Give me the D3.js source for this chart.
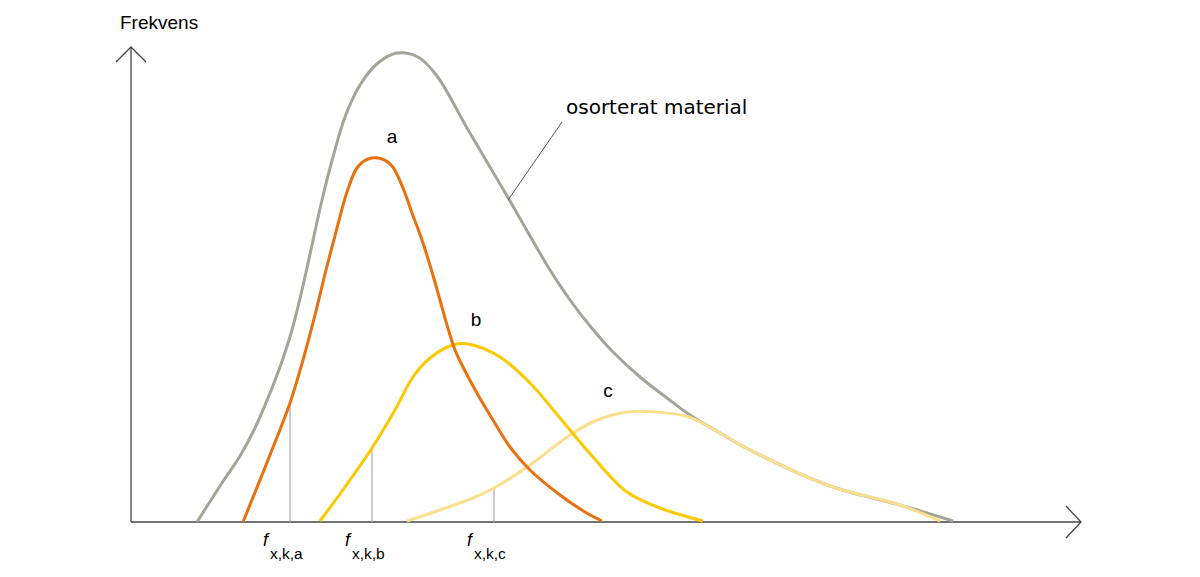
<!DOCTYPE html>
<html><head><meta charset="utf-8">
<script src="https://cdn.jsdelivr.net/npm/d3@7"></script>
<style>body{margin:0;background:#fff}svg{display:block}</style>
</head><body><svg id="c" width="1200" height="577"></svg>
<script>
// data: x and y in chart units (x from y-axis, y from x-axis)
const grayX = [66,91,109,124,137,149,161,171,181,191,202,214,229,247,266,287,306,336,359,379,399,419,439,459,482,509,536,559,589,619,699,769,822];
const grayY = [0,39,66,94,124,155,192,232,277,322,365,405,437,459,469,465,446,394,355,321,286,252,222,196,170,145,124,107,89,72,36,17,1];
const aX = [112,137,159,172,184,195,206,216,226,237,251,261,272,281,291,301,309,316,324,332,347,362,379,399,429,454,471];
const aY = [0,62,119,162,207,252,294,330,354,363,363,356,334,309,282,250,222,197,172,155,127,102,75,52,27,10,1];
const bX = [189,214,241,264,282,299,322,337,369,399,429,462,496,529,572];
const bY = [1,35,74,112,145,164,177,178,165,139,104,65,30,14,1];
const cX = [276,309,342,363,399,439,464,496,536,558,589,619,699,769,809];
const cY = [1,12,24,34,57,87,101,110,109,105,89,72,36,17,1];
const dropX = [159,241,363];
const dropY = [119,74,34];
const curveLabels = ["a","b","c"];
const labelX = [261,345,477];
const labelY = [379,196,125];
const fSubs = ["x,k,a","x,k,b","x,k,c"];

const svg = d3.select("#c");
const x = d3.scaleLinear().domain([0,950]).range([131,1081]);
const y = d3.scaleLinear().domain([0,470]).range([522,52]);

// axes
const ax = svg.append("g").attr("stroke","#444").attr("fill","none").attr("stroke-width",1.3);
ax.append("line").attr("x1",x(0)).attr("x2",x(950)).attr("y1",y(0)).attr("y2",y(0));
ax.append("line").attr("x1",x(0)).attr("x2",x(0)).attr("y1",y(0)).attr("y2",y(475));
ax.append("path").attr("d",`M${x(935)},${y(16)}L${x(950)},${y(0)}L${x(935)},${y(-16)}`);
ax.append("path").attr("d",`M${x(-15)},${y(460)}L${x(0)},${y(475)}L${x(15)},${y(460)}`);

// drop lines
dropX.forEach((d,i)=>{
  svg.append("line").attr("x1",x(d)).attr("x2",x(d)).attr("y1",y(0)).attr("y2",y(dropY[i]))
    .attr("stroke","#aaa").attr("stroke-width",1.2);
});

const line = d3.line().curve(d3.curveCatmullRom.alpha(0.5));
function draw(xs,ys,col,w){
  svg.append("path").attr("d",line(xs.map((d,i)=>[x(d),y(ys[i])])))
    .attr("fill","none").attr("stroke",col).attr("stroke-width",w).attr("stroke-linecap","butt");
}
draw(grayX,grayY,"#a4a49a",3);
draw(cX,cY,"#fbdf8e",3);
draw(bX,bY,"#fcc800",3);
draw(aX,aY,"#e8710f",3);

// leader line
svg.append("line").attr("x1",562).attr("y1",122).attr("x2",508).attr("y2",200).attr("stroke","#555").attr("stroke-width",1);

svg.append("text").attr("x",120).attr("y",29).attr("font-family","Liberation Sans, Arial").attr("font-size",19).text("Frekvens");
svg.append("text").attr("x",566).attr("y",114).attr("font-family","DejaVu Sans, Verdana").attr("font-size",20).text("osorterat material");
curveLabels.forEach((t,i)=>{
  svg.append("text").attr("x",x(labelX[i])).attr("y",y(labelY[i])).attr("text-anchor","middle")
   .attr("font-family","Liberation Sans, Arial").attr("font-size",19).text(t);
});
dropX.forEach((d,i)=>{
  const g = svg.append("text").attr("font-family","Liberation Sans, Arial").attr("font-size",18);
  g.append("tspan").attr("x",x(d)-27).attr("y",546).attr("font-style","italic").text("f");
  g.append("tspan").attr("x",x(d)-20).attr("y",559).attr("font-size",15.5).text(fSubs[i]);
});
</script></body></html>
